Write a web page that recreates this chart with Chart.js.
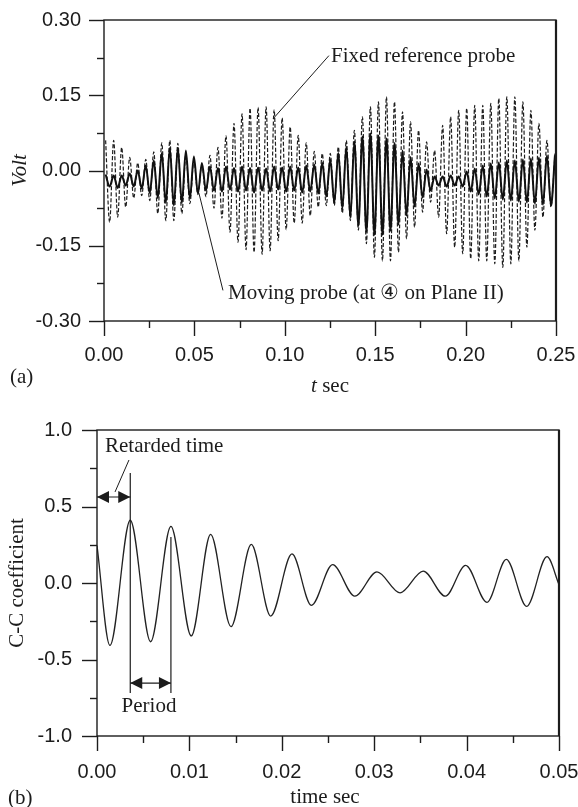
<!DOCTYPE html>
<html>
<head>
<meta charset="utf-8">
<script src="https://cdn.jsdelivr.net/npm/chart.js@4.4.1/dist/chart.umd.min.js"></script>
<style>
  body { margin: 0; background: #fff; }
  .panel { position: absolute; left: 0; }
  #panelA { top: 0; }
  #panelB { top: 400px; }
</style>
</head>
<body>
<div class="panel" id="panelA"><canvas id="chartA" width="578" height="400"></canvas></div>
<div class="panel" id="panelB"><canvas id="chartB" width="578" height="407"></canvas></div>
<script>
// ---- (a) probe signals: one peak and one trough per cycle ----
const cycleStart = 0.0009;     // time of first peak, s
const cyclePeriod = 0.004438;  // s

const fixedPeaks = [0.060, 0.060, 0.046, 0.026, 0.015, 0.022, 0.037, 0.055, 0.060, 0.054,
  0.032, 0.020, 0.012, 0.030, 0.046, 0.069, 0.094, 0.113, 0.124, 0.126,
  0.127, 0.121, 0.105, 0.087, 0.070, 0.055, 0.038, 0.034, 0.034, 0.047,
  0.060, 0.080, 0.107, 0.127, 0.137, 0.147, 0.137, 0.117, 0.097, 0.080,
  0.057, 0.040, 0.090, 0.107, 0.120, 0.124, 0.130, 0.130, 0.134, 0.144,
  0.147, 0.147, 0.137, 0.120, 0.094, 0.060, 0.034];
const fixedTroughs = [-0.103, -0.093, -0.073, -0.055, -0.050, -0.060, -0.086, -0.100, -0.100, -0.086,
  -0.066, -0.048, -0.052, -0.075, -0.095, -0.123, -0.143, -0.158, -0.163, -0.167,
  -0.160, -0.140, -0.118, -0.105, -0.105, -0.090, -0.073, -0.070, -0.070, -0.085,
  -0.100, -0.119, -0.146, -0.173, -0.180, -0.180, -0.163, -0.136, -0.113, -0.083,
  -0.063, -0.093, -0.126, -0.153, -0.166, -0.176, -0.180, -0.180, -0.186, -0.193,
  -0.186, -0.180, -0.153, -0.119, -0.093, -0.073];

const movingPeaks = [-0.008, -0.010, -0.010, -0.006, 0.000, 0.010, 0.020, 0.035, 0.045, 0.045,
  0.040, 0.028, 0.015, 0.008, 0.005, 0.008, 0.005, 0.008, 0.005, 0.006,
  0.004, 0.008, 0.006, 0.008, 0.006, 0.010, 0.012, 0.015, 0.022, 0.035,
  0.047, 0.058, 0.068, 0.074, 0.070, 0.064, 0.055, 0.040, 0.027, 0.014,
  0.002, -0.012, -0.012, -0.010, -0.012, -0.002, 0.004, 0.010, 0.014, 0.016,
  0.020, 0.020, 0.022, 0.024, 0.026, 0.030, 0.030];
const movingTroughs = [-0.032, -0.035, -0.030, -0.032, -0.036, -0.045, -0.055, -0.065, -0.070, -0.065,
  -0.056, -0.046, -0.040, -0.040, -0.042, -0.038, -0.042, -0.040, -0.044, -0.040,
  -0.042, -0.038, -0.042, -0.040, -0.044, -0.042, -0.046, -0.052, -0.064, -0.076,
  -0.094, -0.110, -0.122, -0.128, -0.128, -0.120, -0.108, -0.090, -0.072, -0.054,
  -0.040, -0.030, -0.032, -0.030, -0.032, -0.042, -0.048, -0.052, -0.056, -0.058,
  -0.060, -0.062, -0.064, -0.066, -0.068, -0.070];

// ---- (b) cross-correlation coefficient, turning points ----
const ccTime = [0, 0.0014, 0.0036, 0.0058, 0.0080, 0.0102, 0.0123, 0.0145, 0.0167, 0.0188,
  0.0211, 0.0232, 0.0255, 0.0279, 0.0303, 0.0328, 0.0353, 0.0377, 0.0399, 0.0422,
  0.0443, 0.0465, 0.0487, 0.0500];
const ccValue = [0.245, -0.408, 0.410, -0.384, 0.370, -0.346, 0.318, -0.285, 0.252, -0.216,
  0.190, -0.146, 0.120, -0.086, 0.073, -0.064, 0.078, -0.086, 0.115, -0.126,
  0.154, -0.153, 0.172, -0.010];

const serif = "'Liberation Serif', 'Times New Roman', serif";
const sans = "'Liberation Sans', Arial, sans-serif";
const ink = '#1c1c1c';

Chart.defaults.font.family = sans;
Chart.defaults.font.size = 20;
Chart.defaults.color = ink;

// peaks and troughs alternate, half a period apart
function waveform(peaks, troughs) {
  const pts = [];
  peaks.forEach((p, k) => {
    pts.push({ x: cycleStart + k * cyclePeriod, y: p });
    if (k < troughs.length) pts.push({ x: cycleStart + (k + 0.5) * cyclePeriod, y: troughs[k] });
  });
  return pts;
}

function label2(step, digits) {
  return v => {
    const n = Math.round(v / step);
    if (n % 2 !== 0) return '';
    return Math.abs(v) < 1e-9 ? (0).toFixed(digits) : v.toFixed(digits);
  };
}

// fixed axis sizes; the label overhang is covered by layout padding instead
function fixSize(prop, size) {
  return s => {
    s[prop] = size;
    s.paddingTop = s.paddingBottom = s.paddingLeft = s.paddingRight = 0;
  };
}

function scalesFor(xr, yr, yWidth, xHeight) {
  return {
    x: {
      type: 'linear', min: xr[0], max: xr[1],
      grid: { display: false, drawTicks: false }, border: { display: false },
      ticks: { stepSize: xr[2], autoSkip: false, maxRotation: 0, padding: xr[3], callback: label2(xr[2], 2) },
      afterFit: fixSize('height', xHeight)
    },
    y: {
      type: 'linear', min: yr[0], max: yr[1],
      grid: { display: false, drawTicks: false }, border: { display: false },
      ticks: { stepSize: yr[2], autoSkip: false, padding: yr[3], callback: label2(yr[2], yr[4]) },
      afterFit: fixSize('width', yWidth)
    }
  };
}

function line(ctx, x1, y1, x2, y2) {
  ctx.beginPath(); ctx.moveTo(x1, y1); ctx.lineTo(x2, y2); ctx.stroke();
}

function arrowHead(ctx, x, y, dir) {
  ctx.beginPath();
  ctx.moveTo(x, y);
  ctx.lineTo(x - dir * 12, y - 6);
  ctx.lineTo(x - dir * 12, y + 6);
  ctx.closePath();
  ctx.fill();
}

function doubleArrow(ctx, x1, x2, y) {
  line(ctx, x1, y, x2, y);
  arrowHead(ctx, x1, y, -1);
  arrowHead(ctx, x2, y, 1);
}

function text(ctx, str, x, y, font, align, angle) {
  ctx.save();
  ctx.font = font;
  ctx.textAlign = align || 'left';
  ctx.textBaseline = 'middle';
  ctx.translate(x, y);
  if (angle) ctx.rotate(angle);
  ctx.fillText(str, 0, 0);
  ctx.restore();
}

// frame plus outward tick marks (long at labelled ticks)
const framePlugin = {
  id: 'frame',
  afterDraw(chart) {
    const ctx = chart.ctx, a = chart.chartArea;
    const xs = chart.scales.x, ys = chart.scales.y;
    ctx.save();
    ctx.strokeStyle = ink;
    ctx.lineWidth = 1.4;
    xs.ticks.forEach(t => {
      const px = Math.round(xs.getPixelForValue(t.value)) + 0.5;
      line(ctx, px, a.bottom, px, a.bottom + (t.label ? 15 : 7));
    });
    ys.ticks.forEach(t => {
      const py = Math.round(ys.getPixelForValue(t.value)) + 0.5;
      line(ctx, a.left, py, a.left - (t.label ? 15 : 7), py);
    });
    ctx.strokeRect(a.left, a.top, a.right - a.left, a.bottom - a.top);
    ctx.lineWidth = 2.2;
    line(ctx, a.right, a.top, a.right, a.bottom);
    ctx.restore();
  }
};

// ---- chart (a) ----
new Chart(document.getElementById('chartA'), {
  type: 'line',
  data: {
    datasets: [
      {
        label: 'Moving probe',
        data: waveform(movingPeaks, movingTroughs),
        borderColor: '#111', borderWidth: 2, pointRadius: 0,
        cubicInterpolationMode: 'monotone'
      },
      {
        label: 'Fixed reference probe',
        data: waveform(fixedPeaks, fixedTroughs),
        borderColor: '#1e1e1e', borderWidth: 1.2, borderDash: [4, 2], pointRadius: 0,
        cubicInterpolationMode: 'monotone'
      }
    ]
  },
  options: {
    responsive: false, animation: false, devicePixelRatio: 1,
    layout: { padding: { left: 0, right: 22, top: 20, bottom: 0 } },
    plugins: { legend: { display: false }, tooltip: { enabled: false } },
    scales: scalesFor([0, 0.25, 0.025, 22], [-0.3, 0.3, 0.075, 23, 2], 104, 79)
  },
  plugins: [framePlugin, {
    id: 'notesA',
    afterDraw(chart) {
      const ctx = chart.ctx, xs = chart.scales.x, ys = chart.scales.y;
      const X = v => xs.getPixelForValue(v), Y = v => ys.getPixelForValue(v);
      ctx.save();
      ctx.fillStyle = ink; ctx.strokeStyle = ink; ctx.lineWidth = 1;
      text(ctx, 'Fixed reference probe', X(0.1256), Y(0.227), '21px ' + serif);
      line(ctx, X(0.1244), Y(0.229), X(0.0935), Y(0.103));
      text(ctx, 'Moving probe (at \u2463 on Plane II)', X(0.0686), Y(-0.245), '21px ' + serif);
      line(ctx, X(0.0658), Y(-0.239), X(0.0525), Y(-0.045));
      text(ctx, 'Volt', 20, (chart.chartArea.top + chart.chartArea.bottom) / 2, 'italic 21px ' + serif, 'center', -Math.PI / 2);
      text(ctx, '(a)', 10, 377, '21px ' + serif);
      ctx.font = 'italic 21px ' + serif;
      const wt = ctx.measureText('t ').width;
      ctx.font = '21px ' + serif;
      const ws = ctx.measureText('sec').width;
      const cx = (chart.chartArea.left + chart.chartArea.right) / 2 - (wt + ws) / 2;
      text(ctx, 't', cx, 386, 'italic 21px ' + serif);
      text(ctx, 'sec', cx + wt, 386, '21px ' + serif);
      ctx.restore();
    }
  }]
});

// ---- chart (b) ----
new Chart(document.getElementById('chartB'), {
  type: 'line',
  data: {
    datasets: [{
      label: 'C-C coefficient',
      data: ccTime.map((t, i) => ({ x: t, y: ccValue[i] })),
      borderColor: '#222', borderWidth: 1.3, pointRadius: 0,
      cubicInterpolationMode: 'monotone'
    }]
  },
  options: {
    responsive: false, animation: false, devicePixelRatio: 1,
    layout: { padding: { left: 0, right: 19, top: 30, bottom: 0 } },
    plugins: { legend: { display: false }, tooltip: { enabled: false } },
    scales: scalesFor([0, 0.05, 0.005, 24], [-1, 1, 0.25, 25, 1], 97, 71)
  },
  plugins: [framePlugin, {
    id: 'notesB',
    afterDraw(chart) {
      const ctx = chart.ctx, xs = chart.scales.x, ys = chart.scales.y;
      const X = v => xs.getPixelForValue(v), Y = v => ys.getPixelForValue(v);
      const tRet = ccTime[2], tNext = ccTime[4];
      ctx.save();
      ctx.fillStyle = ink; ctx.strokeStyle = ink; ctx.lineWidth = 1.2;
      line(ctx, X(tRet), Y(0.719), X(tRet), Y(-0.719));
      line(ctx, X(tNext), Y(0.30), X(tNext), Y(-0.719));
      doubleArrow(ctx, X(0), X(tRet), Y(0.562));
      doubleArrow(ctx, X(tRet), X(tNext), Y(-0.654));
      ctx.lineWidth = 1;
      line(ctx, X(0.00346), Y(0.804), X(0.00195), Y(0.595));
      text(ctx, 'Retarded time', X(0.00087), Y(0.889), '21px ' + serif);
      text(ctx, 'Period', X(0.00563), Y(-0.804), '21px ' + serif, 'center');
      text(ctx, 'C-C coefficient', 17, (chart.chartArea.top + chart.chartArea.bottom) / 2, '21px ' + serif, 'center', -Math.PI / 2);
      text(ctx, '(b)', 8, 398, '21px ' + serif);
      text(ctx, 'time sec', 325, 397, '21px ' + serif, 'center');
      ctx.restore();
    }
  }]
});
</script>
</body>
</html>
